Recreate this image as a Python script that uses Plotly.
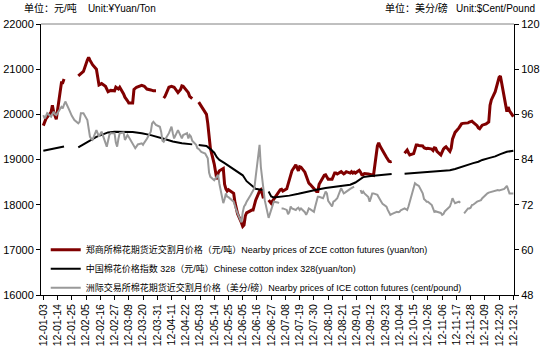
import plotly.graph_objects as go

YEAR = "2012-"

# ZCE cotton futures nearby contract (yuan/ton), left axis
zce_dates = ["01-03","01-05","01-09","01-10","01-11","01-12","01-13","01-16","01-17","01-18","01-19","01-25",
 "01-30","02-01","02-03","02-06","02-07","02-08","02-10","02-13","02-14","02-15","02-17","02-20","02-22","02-24",
 "02-27","02-28","03-01","03-02","03-05","03-06","03-08","03-09","03-12","03-13","03-15","03-19","03-21","03-23",
 "03-26","03-28","03-30","04-02","04-05","04-06","04-09","04-11","04-13","04-16","04-18","04-19","04-20","04-23",
 "04-24","04-25","04-27","04-30","05-02","05-04","05-07","05-08","05-09","05-10","05-11","05-14","05-15","05-16",
 "05-17","05-18","05-21","05-22","05-23","05-24","05-25","05-28","05-29","05-30","05-31","06-01","06-04","06-05",
 "06-06","06-07","06-08","06-11","06-12","06-13","06-14","06-15","06-18","06-19","06-20","06-21","06-22","06-25",
 "06-26","06-27","06-28","06-29","07-02","07-03","07-04","07-05","07-06","07-09","07-10","07-11","07-12","07-13",
 "07-16","07-17","07-18","07-19","07-20","07-23","07-24","07-25","07-26","07-27","07-30","07-31","08-01","08-02",
 "08-03","08-06","08-07","08-08","08-09","08-10","08-13","08-14","08-15","08-16","08-17","08-20","08-21","08-22",
 "08-23","08-24","08-27","08-28","08-29","08-30","08-31","09-03","09-04","09-05","09-06","09-07","09-10","09-11",
 "09-12","09-13","09-14","09-17","09-18","09-19","09-20","09-21","09-24","09-25","09-26","09-27","09-28","10-01",
 "10-08","10-09","10-10","10-11","10-12","10-15","10-16","10-17","10-18","10-19","10-22","10-23","10-24","10-25",
 "10-26","10-29","10-30","10-31","11-01","11-02","11-05","11-06","11-07","11-08","11-09","11-12","11-13","11-14",
 "11-15","11-16","11-19","11-20","11-21","11-22","11-23","11-26","11-27","11-28","11-29","11-30","12-03","12-04",
 "12-05","12-06","12-07","12-10","12-11","12-12","12-13","12-14","12-17","12-18","12-19","12-20","12-21","12-24",
 "12-25","12-26","12-27","12-28","12-31"]
zce_values = [19750,19900,20050,20200,20050,19950,19890,20500,20700,20700,20780,None,
 20850,20900,20950,21200,21260,21200,21100,21000,20800,20650,20680,20620,20500,20530,
 20520,20600,20560,20600,20450,20380,20300,20250,20250,20550,20600,20640,20620,20560,
 20540,20520,20520,None,20360,20400,20600,20620,20600,20480,20550,20630,20620,20520,
 20480,20400,20350,None,20270,20180,20060,20000,19800,19500,19250,18900,18700,18560,
 18700,18750,18800,18450,18350,18300,18330,18280,18250,18050,17950,17800,17600,17520,
 17550,17750,17820,17870,17880,17880,18000,18100,18300,18330,18250,18140,None,18100,
 18050,18030,18080,18120,18250,18300,18330,18340,18300,18350,18450,18550,18630,18750,
 18880,18800,18750,18840,18830,18720,18620,18560,18480,18450,18340,18300,18290,18290,
 18450,18600,18650,18660,18600,18560,18560,18650,18700,18700,18680,18730,18700,18680,
 18700,18730,18700,18730,18700,18720,18700,18760,18720,18660,18660,18690,18680,18670,
 18670,18660,18650,19300,19370,19300,19230,19200,19050,19000,18960,18950,18960,None,
 19140,19180,19210,19150,19100,19130,19250,19320,19320,19310,19300,19260,19250,19240,
 19250,19230,19200,19260,19250,19180,19100,19180,19230,19260,19280,19180,19250,19450,
 19550,19600,19700,19760,19790,19800,19800,19810,19830,19840,19850,19820,19750,19700,
 19680,19720,19760,19790,19820,19830,20200,20320,20500,20620,20720,20820,20850,20400,
 20250,20060,20160,20080,19950]

# China cotton index 328 (yuan/ton), left axis
cci_dates = ["01-03","01-09","01-13","01-19","01-25","01-30","02-03","02-08","02-13","02-17","02-22","02-27",
 "03-05","03-12","03-19","03-26","04-05","04-12","04-19","04-26","04-27","04-30","05-02","05-08","05-11","05-14",
 "05-16","05-18","05-22","05-25","05-29","06-01","06-05","06-08","06-12","06-15","06-19","06-21","06-22","06-25",
 "06-27","06-29","07-04","07-11","07-18","07-25","08-01","08-08","08-15","08-22","08-27","08-31","09-03","09-06",
 "09-12","09-20","09-28","10-01","10-08","10-15","10-22","10-29","11-05","11-12","11-16","11-20","11-26","11-30",
 "12-04","12-07","12-12","12-17","12-21","12-26","12-31"]
cci_values = [19195,19230,19260,19290,None,19270,19330,19420,19500,19550,19600,19615,
 19615,19610,19580,19540,19460,19400,19360,19340,19335,None,19320,19300,19230,19150,
 19050,18990,18920,18860,18780,18720,18650,18520,18420,18350,18330,18330,None,18290,
 18180,18160,18170,18200,18240,18290,18330,18370,18400,18430,18440,18490,18550,18610,
 18635,18660,18680,None,18685,18700,18715,18730,18745,18760,18790,18830,18880,18920,
 18950,18990,19030,19070,19120,19170,19195]

# ICE cotton futures nearby contract (cent/pound), right axis
ice_dates = ["01-03","01-04","01-05","01-06","01-09","01-10","01-11","01-12","01-13","01-17","01-18","01-19",
 "01-20","01-23","01-24","01-25","01-27","01-30","01-31","02-01","02-02","02-03","02-06","02-07","02-08","02-09",
 "02-10","02-13","02-14","02-15","02-16","02-17","02-21","02-22","02-23","02-24","02-27","02-28","02-29","03-01",
 "03-02","03-05","03-06","03-07","03-08","03-09","03-12","03-13","03-14","03-15","03-16","03-19","03-20","03-21",
 "03-22","03-23","03-26","03-27","03-28","03-29","03-30","04-02","04-03","04-04","04-05","04-09","04-10","04-11",
 "04-12","04-13","04-16","04-17","04-18","04-19","04-20","04-23","04-24","04-25","04-26","04-27","04-30","05-01",
 "05-02","05-03","05-04","05-07","05-08","05-09","05-10","05-11","05-14","05-15","05-16","05-17","05-18","05-21",
 "05-22","05-23","05-24","05-25","05-29","05-30","05-31","06-01","06-04","06-05","06-06","06-07","06-08","06-11",
 "06-12","06-13","06-14","06-15","06-18","06-19","06-20","06-21","06-22","06-25","06-26","06-27","06-28","06-29",
 "07-02","07-03","07-04","07-05","07-06","07-09","07-10","07-11","07-12","07-13","07-16","07-17","07-18","07-19",
 "07-20","07-23","07-24","07-25","07-26","07-27","07-30","07-31","08-01","08-02","08-03","08-06","08-07","08-08",
 "08-09","08-10","08-13","08-14","08-15","08-16","08-17","08-20","08-21","08-22","08-23","08-24","08-27","08-28",
 "08-29","08-30","09-03","09-04","09-05","09-06","09-07","09-10","09-11","09-12","09-13","09-14","09-17","09-18",
 "09-19","09-20","09-21","09-24","09-25","09-26","09-27","09-28","10-01","10-02","10-03","10-04","10-05","10-08",
 "10-09","10-10","10-11","10-12","10-15","10-16","10-17","10-18","10-19","10-22","10-23","10-24","10-25","10-26",
 "10-29","10-31","11-01","11-02","11-05","11-06","11-07","11-08","11-09","11-12","11-13","11-14","11-15","11-16",
 "11-19","11-20","11-22","11-23","11-26","11-27","11-28","11-29","11-30","12-03","12-04","12-05","12-06","12-07",
 "12-10","12-11","12-12","12-13","12-14","12-17","12-18","12-19","12-20","12-21","12-24","12-26","12-27","12-28",
 "12-31"]
ice_values = [95.8,94.9,95.5,96.3,95.4,96.2,96.7,96.0,95.8,98.0,97.6,98.6,
 99.4,97.2,96.4,95.6,94.5,93.6,94.0,96.3,96.3,96.3,94.5,92.3,90.1,89.5,
 89.2,91.8,90.8,90.1,90.8,91.4,87.4,89.0,90.5,91.0,91.0,88.5,87.4,89.5,
 91.0,91.2,89.2,89.8,90.5,90.0,88.3,87.5,87.0,87.5,88.0,88.3,87.9,88.5,
 89.2,89.5,91.4,93.6,94.0,93.5,93.2,92.7,91.4,89.0,88.7,91.0,92.0,92.7,
 91.0,89.6,91.8,91.0,90.1,89.6,90.5,91.0,89.6,90.5,90.1,89.0,87.9,87.0,
 86.8,86.5,86.0,85.6,84.7,84.3,80.5,79.4,78.5,79.0,79.5,79.9,77.5,72.4,
 73.5,75.0,74.1,74.0,72.8,71.5,70.6,69.7,67.3,70.0,71.5,72.0,72.8,74.5,
 75.2,76.0,76.4,79.4,87.9,82.0,79.0,76.8,73.2,68.5,69.5,71.0,72.0,72.8,
 72.6,72.4,None,71.0,71.0,70.6,69.5,70.0,71.5,71.0,70.6,71.0,71.2,70.6,
 71.0,70.0,69.3,70.0,71.0,70.8,70.1,71.5,73.0,74.1,74.1,73.7,74.5,75.5,
 75.0,73.0,71.5,72.8,73.0,73.5,73.7,76.4,75.8,75.0,75.2,75.5,76.2,76.4,
 76.6,76.8,None,75.9,75.0,75.5,75.0,74.0,72.8,73.8,75.0,75.0,74.6,74.0,
 73.2,72.8,72.2,71.5,70.6,70.0,69.3,69.5,70.1,70.1,70.0,70.1,70.5,71.0,
 70.8,70.6,71.5,72.8,77.0,77.7,77.4,77.2,77.0,75.0,73.5,73.2,72.8,72.8,
 71.9,70.1,70.3,70.1,69.8,69.3,69.5,70.2,70.6,71.5,72.5,73.7,73.0,72.4,
 72.8,72.5,None,69.7,71.0,71.0,71.2,71.9,72.0,72.8,73.0,73.2,73.2,73.7,
 74.8,75.0,75.2,75.3,75.5,75.7,75.9,75.9,75.8,75.9,76.2,77.0,76.0,75.0,
 75.0]

names = ["郑商所棉花期货近交割月价格（元/吨）Nearby prices of ZCE cotton futures (yuan/ton)",
         "中国棉花价格指数 328（元/吨）Chinese cotton index 328(yuan/ton)",
         "洲际交易所棉花期货近交割月价格（美分/磅）Nearby prices of ICE cotton futures (cent/pound)"]

FONT = "Arial, 'Liberation Sans', 'Noto Sans CJK SC', sans-serif"

fig = go.Figure()
fig.add_trace(go.Scatter(x=[YEAR + d for d in zce_dates], y=zce_values, mode="lines", name=names[0],
                         line=dict(color="#800000", width=3), connectgaps=False, yaxis="y"))
fig.add_trace(go.Scatter(x=[YEAR + d for d in cci_dates], y=cci_values, mode="lines", name=names[1],
                         line=dict(color="#000000", width=2), connectgaps=False, yaxis="y"))
fig.add_trace(go.Scatter(x=[YEAR + d for d in ice_dates], y=ice_values, mode="lines", name=names[2],
                         line=dict(color="#999999", width=2), connectgaps=False, yaxis="y2"))

fig.update_layout(
    template="none",
    width=546, height=351,
    margin=dict(l=41, r=32, t=24, b=56, autoexpand=False),
    paper_bgcolor="white", plot_bgcolor="white",
    font=dict(family=FONT, size=11, color="black"),
    xaxis=dict(type="date", range=["2012-01-01 05:00", "2012-12-31 12:00"],
               tick0="2012-01-03", dtick=11 * 86400000, tickformat="%y-%m-%d",
               tickangle=-90, tickfont=dict(size=10.5), ticks="outside", ticklen=4,
               tickcolor="black", showline=True, linecolor="black", linewidth=1,
               showgrid=False, zeroline=False, automargin=False),
    yaxis=dict(range=[16000, 22000], dtick=1000, tickformat="d", ticks="outside",
               ticklen=4, tickcolor="black", showline=True, linecolor="black",
               linewidth=1, showgrid=False, zeroline=False, automargin=False),
    yaxis2=dict(range=[48, 120], dtick=12, overlaying="y", side="right", ticks="outside",
                ticklen=4, tickcolor="black", showline=True, linecolor="black",
                linewidth=1, showgrid=False, zeroline=False, automargin=False),
    showlegend=True,
    legend=dict(x=0.01, y=0.097, xanchor="left", yanchor="middle",
                bgcolor="rgba(0,0,0,0)", borderwidth=0, font=dict(size=9), itemwidth=30),
    shapes=[dict(type="line", xref="paper", yref="paper", x0=0, x1=1, y0=1, y1=1,
                 line=dict(color="#808080", width=1))],
    annotations=[
        dict(text="单位：元/吨    Unit:¥Yuan/Ton", xref="paper", yref="paper",
             x=-0.040, y=1.059, xanchor="left", yanchor="middle", showarrow=False,
             font=dict(size=10)),
        dict(text="单位：美分/磅   Unit:$Cent/Pound", xref="paper", yref="paper",
             x=1.0486, y=1.059, xanchor="right", yanchor="middle", showarrow=False,
             font=dict(size=10)),
    ],
)

fig.write_html("out.html")
